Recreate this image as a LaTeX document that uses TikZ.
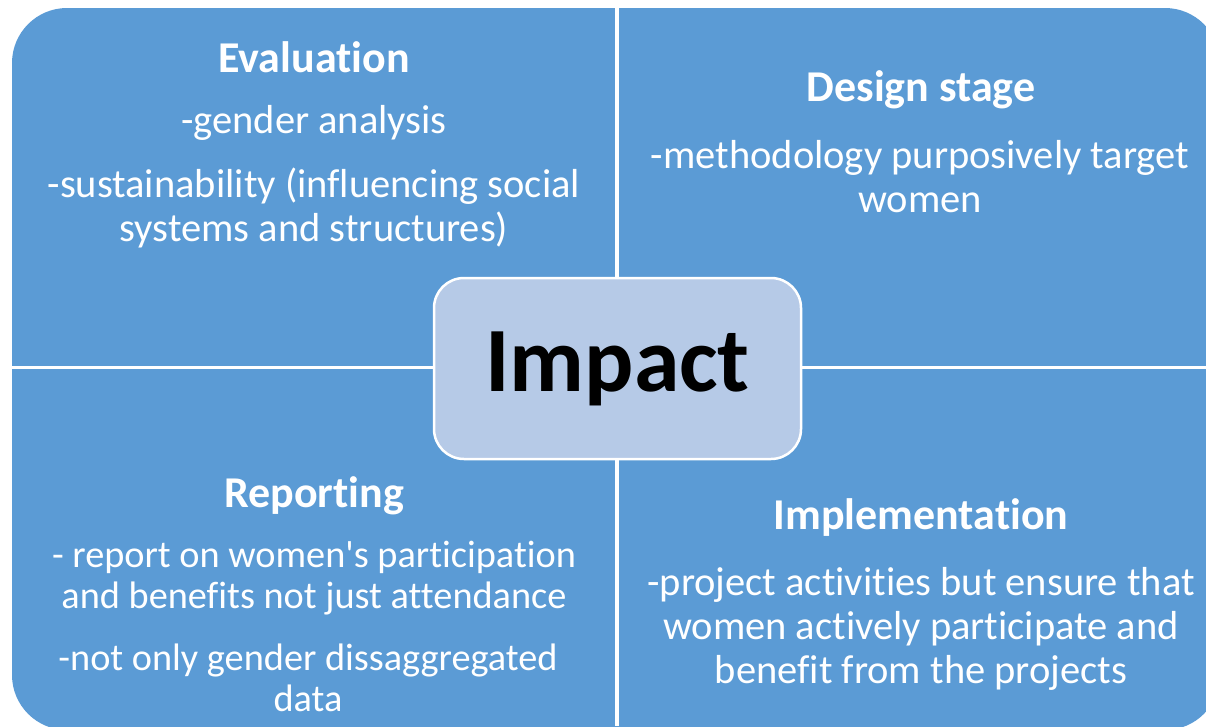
\documentclass[tikz,border=0pt]{standalone}
\usepackage{fontspec}
\setmainfont{Carlito}[Ligatures=NoCommon]
\definecolor{quadblue}{HTML}{5B9BD5}
\definecolor{hubblue}{HTML}{B6CAE7}
\begin{document}
\begin{tikzpicture}[x=1pt,y=-1pt,
  head/.style={text=white,font=\fontsize{44}{50}\selectfont\bfseries},
  body/.style={text=white,align=center,font=\fontsize{40.5}{44}\selectfont},
  tight/.style={font=\fontsize{38.3}{41}\selectfont},
  hub/.style={draw=white,line width=2.5pt,fill=hubblue,rounded corners=30pt,
    minimum width=367pt,minimum height=181pt,font=\fontsize{92}{100}\selectfont\bfseries}]
\useasboundingbox (0,0) rectangle (1206,726);
\clip (0,0) rectangle (1206,726);
% four quadrants
\fill[quadblue,rounded corners=55pt] (12,8) rectangle (1220,730);
\draw[white,line width=4pt] (617,0) -- (617,726);
\draw[white,line width=3pt] (0,367.5) -- (1206,367.5);
% top left
\node[head] (eval) at (314,57) {Evaluation};
\node[body] (evalA) at (314,123) {-gender analysis};
\node[body] (evalB) at (314,208) {-sustainability (influencing social\\systems and structures)};
% top right
\node[head] (design) at (921,90) {Design stage};
\node[body] (designA) at (920,177) {-methodology purposively target\\women};
% bottom left
\node[head] (report) at (314,496) {Reporting};
\node[body,tight] (reportA) at (314,578) {- report on women\textquotesingle s participation\\and benefits not just attendance};
\node[body,tight] (reportB) at (308,678) {-not only gender dissaggregated\\data};
% bottom right
\node[head] (impl) at (921,518) {Implementation};
\node[body] (implA) at (921,629) {-project activities but ensure that\\women actively participate and\\benefit from the projects};
% centre
\node[hub] (impact) at (617.5,368.5) {\raisebox{-2pt}{Impact}};
\end{tikzpicture}
\end{document}
